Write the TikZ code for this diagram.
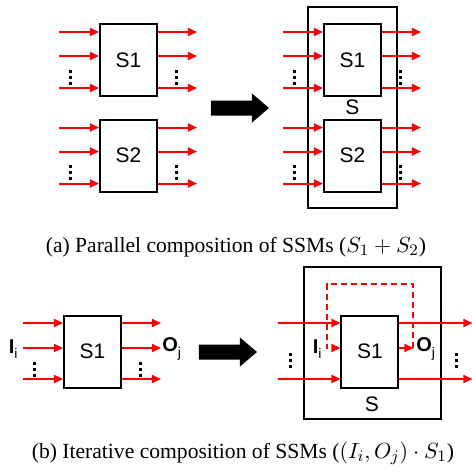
\documentclass[tikz,border=0pt]{standalone}
\usepackage{fontspec}
\setmainfont{Liberation Serif}
\newfontfamily\boxfont{Liberation Sans}
\usetikzlibrary{arrows.meta}

\tikzset{
  blk/.style={draw,line width=1pt,minimum width=28.5pt,minimum height=36pt,
    inner sep=0pt,font=\boxfont\fontsize{10.5}{12}\selectfont},
  frame/.style={draw,line width=1pt,inner sep=0pt},
  sig/.style={red,line width=1pt,-{Triangle[length=4.5pt,width=4pt]}},
  loopsig/.style={sig,dash pattern=on 3pt off 2pt},
  lbl/.style={font=\boxfont\fontsize{10.5}{12}\selectfont,inner sep=0pt},
  port/.style={font=\boxfont\fontsize{10}{12}\selectfont,inner sep=0pt},
  captext/.style={inner sep=0pt,font=\fontsize{10.8}{13}\selectfont},
  vd/.pic={\foreach \k in {-6,0,6} \fill (-1.5,\k-1.5) rectangle (1.5,\k+1.5);},
  fatarrow/.pic={\fill (0,-7.5) -- (41,-7.5) -- (41,-14.5) -- (58,0)
    -- (41,14.5) -- (41,7.5) -- (0,7.5) -- cycle;}
}
\newcommand\portname[2]{{\bfseries #1}\raisebox{-0.5ex}{\fontsize{7}{8}\selectfont #2}}

\begin{document}
\begin{tikzpicture}[x=0.5pt,y=-0.5pt]
\useasboundingbox (0,0) rectangle (472,473);

% ---------- (a) parallel composition ----------
\node[blk] (a1) at (128.5,60) {S1};
\node[blk] (a2) at (128.5,155.5) {S2};

\node[frame,minimum width=44.5pt,minimum height=100.5pt] (fa) at (352.5,107.5) {};
\node[blk] (a3) at (352.5,60) {S1};
\node[blk] (a4) at (352.5,155.5) {S2};
\node[lbl] (sa) at (352.5,107) {S};

\foreach \b in {a1,a2,a3,a4}{
  \foreach \dy in {-28,-4,28}{
    \draw[sig] ([shift={(-40,\dy)}]\b.west) -- ([shift={(0,\dy)}]\b.west);
    \draw[sig] ([shift={(0,\dy)}]\b.east) -- ([shift={(39,\dy)}]\b.east);
  }
  \pic at ([shift={(-28,17)}]\b.west) {vd};
  \pic at ([shift={(19,17)}]\b.east) {vd};
}

\pic at (211,108) {fatarrow};

\node[captext] (capa) at (236,247) {(a) Parallel composition of SSMs ($S_1+S_2$)};

% ---------- (b) iterative composition ----------
\node[blk] (b1) at (92.5,351.5) {S1};
\foreach \dy in {-28.5,-3.5,27.5}{
  \draw[sig] ([shift={(-40,\dy)}]b1.west) -- ([shift={(0,\dy)}]b1.west);
  \draw[sig] ([shift={(0,\dy)}]b1.east) -- ([shift={(39,\dy)}]b1.east);
}
\pic at ([shift={(-28.5,18)}]b1.west) {vd};
\pic at ([shift={(19,18)}]b1.east) {vd};
\node[port,anchor=east] (ia) at (18,349) {\portname{I}{i}};
\node[port,anchor=west] (oa) at (162,349) {\portname{O}{j}};

\pic at (199,352) {fatarrow};

\node[frame,minimum width=68.5pt,minimum height=76pt] (fb) at (372.5,343) {};
\node[blk] (b2) at (370,351.5) {S1};
\node[lbl] (sb) at (372,404) {S};

\foreach \dy in {-28.5,27.5}{
  \draw[sig] ([shift={(-62,\dy)}]b2.west) -- ([shift={(0,\dy)}]b2.west);
  \draw[sig] ([shift={(0,\dy)}]b2.east) -- ([shift={(73,\dy)}]b2.east);
}
\pic at (291,360.5) {vd};
\pic at (457,360.5) {vd};

% feedback loop from O_j back to I_i
\coordinate (oj) at (413.5,348);
\coordinate (ij) at (327,348);
\draw[sig] ([shift={(0,-3.5)}]b2.east) -- (oj);
\draw[loopsig] (oj) -- ++(0,-64) -| (ij) -- ([shift={(0,-3.5)}]b2.west);
\node[port,anchor=east] (ib) at (322,349) {\portname{I}{i}};
\node[port,anchor=west] (ob) at (416,349) {\portname{O}{j}};

\node[captext] (capb) at (243,453) {(b) Iterative composition of SSMs ($(I_i,O_j)\cdot S_1$)};
\end{tikzpicture}
\end{document}
